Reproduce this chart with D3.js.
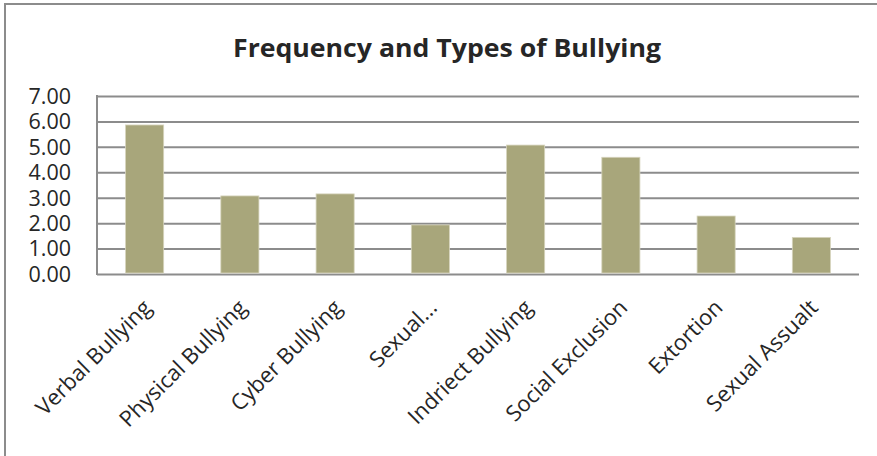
<!DOCTYPE html>
<html>
<head>
<meta charset="utf-8">
<script src="https://cdn.jsdelivr.net/npm/d3@7/dist/d3.min.js"></script>
<style>
  html, body { margin: 0; padding: 0; background: #fff; }
  svg { display: block; }
</style>
</head>
<body>
<svg id="chart" width="877" height="456"></svg>
<script>
const categories = ["Verbal Bullying", "Physical Bullying", "Cyber Bullying", "Sexual...", "Indriect Bullying", "Social Exclusion", "Extortion", "Sexual Assualt"];
const values = [5.86, 3.07, 3.15, 1.93, 5.07, 4.59, 2.28, 1.44];
const yTicks = [0, 1, 2, 3, 4, 5, 6, 7];
const title = "Frequency and Types of Bullying";

const svg = d3.select("#chart");
const W = 877, H = 456;
const m = { left: 97, right: 859, top: 96, bottom: 274 };

// outer border (left & top visible)
svg.append("line").attr("x1", 5).attr("x2", 5).attr("y1", 4).attr("y2", H)
  .attr("stroke", "#8c8c8c").attr("stroke-width", 2);
svg.append("line").attr("x1", 4).attr("x2", W).attr("y1", 4).attr("y2", 4)
  .attr("stroke", "#8c8c8c").attr("stroke-width", 2);

const x = d3.scaleBand().domain(categories).range([m.left, m.right]).paddingInner(0.6).paddingOuter(0.3);
const y = d3.scaleLinear().domain([0, 7]).range([m.bottom, m.top]);

// gridlines
const grid = svg.append("g").attr("transform", `translate(${m.left},0)`)
  .call(d3.axisLeft(y).tickValues(yTicks).tickSize(-(m.right - m.left)).tickFormat(""));
grid.select(".domain").remove();
grid.selectAll(".tick line").attr("stroke", "#8c8c8c").attr("stroke-width", 2);

// left axis line
svg.append("line").attr("x1", m.left).attr("x2", m.left).attr("y1", m.top - 1).attr("y2", m.bottom + 1)
  .attr("stroke", "#8c8c8c").attr("stroke-width", 2);

// y tick labels
const yAxis = svg.append("g").attr("transform", `translate(${m.left},0)`)
  .call(d3.axisLeft(y).tickValues(yTicks).tickSize(0).tickPadding(26).tickFormat(d3.format(".2f")));
yAxis.select(".domain").remove();
yAxis.selectAll("text").attr("font-family", "'Open Sans', sans-serif").attr("font-size", 21.5)
  .attr("fill", "#262626").attr("dy", "0.34em");

// bars
svg.append("g").selectAll("rect").data(values).join("rect")
  .attr("x", (d, i) => x(categories[i]))
  .attr("width", x.bandwidth())
  .attr("y", d => y(d))
  .attr("height", d => y(0) - y(d) - 1)
  .attr("fill", "#a8a67b")
  .attr("stroke", "#d6d4bd").attr("stroke-width", 0.8);

// x labels
const xAxis = svg.append("g").attr("transform", `translate(0,${m.bottom})`)
  .call(d3.axisBottom(x).tickSize(0).tickPadding(0));
xAxis.select(".domain").remove();
xAxis.selectAll("text")
  .attr("font-family", "'Open Sans', sans-serif").attr("font-size", 22).attr("fill", "#262626")
  .attr("text-anchor", "end")
  .attr("dy", 0).attr("y", 0)
  .attr("transform", "translate(8,35) rotate(-45)");

// title
svg.append("text").attr("x", 447).attr("y", 57).attr("text-anchor", "middle")
  .attr("font-family", "'Open Sans', sans-serif").attr("font-weight", "bold").attr("font-size", 25)
  .attr("fill", "#262626")
  .attr("textLength", 428).attr("lengthAdjust", "spacingAndGlyphs")
  .text(title);
</script>
</body>
</html>
